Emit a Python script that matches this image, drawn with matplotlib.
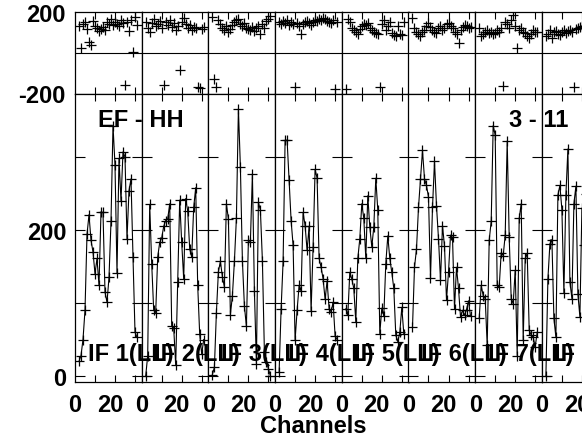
import matplotlib.pyplot as plt
from matplotlib.ticker import FixedLocator

plt.rcParams['font.family'] = ['Liberation Sans', 'DejaVu Sans']
plt.rcParams['font.weight'] = 'bold'

W, H = 582, 439   # figure size in pixels
FS = 17

if_labels = ['IF 1(LL)', 'IF 2(LL)', 'IF 3(LL)', 'IF 4(LL)',
             'IF 5(LL)', 'IF 6(LL)', 'IF 7(LL)', 'IF 8(LL)']
channels = list(range(2, 32))

# amplitude per IF
amp_if1 = [20, 28, 50, 90, 194, 221, 186, 170, 140, 161, 124, 225, 224, 115, 101,
           135, 212, 343, 289, 141, 298, 240, 307, 300, 188, 254, 270, 163, 60, 53]
amp_if2 = [0, 28, 235, 154, 90, 87, 163, 183, 189, 205, 213, 215, 236, 69, 66,
           15, 129, 241, 183, 133, 243, 226, 174, 163, 231, 258, 124, 57, 30, 50]
amp_if3 = [2, 12, 87, 143, 157, 136, 122, 236, 215, 84, 110, 157, 216, 366, 286,
           158, 96, 68, 186, 184, 277, 117, 17, 238, 227, 158, 33, 19, 10, 0]
amp_if4 = [5, 92, 157, 323, 323, 268, 213, 179, 49, 90, 124, 116, 224, 206, 172,
           205, 89, 177, 283, 271, 161, 149, 133, 105, 130, 92, 88, 101, 55, 50]
amp_if5 = [92, 83, 142, 133, 120, 74, 161, 188, 236, 216, 161, 247, 204, 177, 204,
           271, 227, 58, 93, 82, 154, 192, 161, 142, 120, 56, 47, 60, 94, 58]
amp_if6 = [67, 149, 174, 231, 270, 309, 270, 261, 245, 134, 231, 294, 233, 188, 131,
           206, 178, 104, 142, 193, 190, 92, 149, 120, 81, 90, 83, 91, 103, 82]
amp_if7 = [79, 124, 110, 106, 42, 186, 212, 343, 330, 124, 122, 169, 165, 193, 322,
           190, 106, 99, 145, 28, 216, 236, 49, 161, 168, 63, 56, 53, 40, 60]
amp_if8 = [0, 133, 181, 187, 79, 53, 248, 261, 228, 114, 248, 311, 129, 106, 236,
           260, 112, 81, 230, 180, 250, 120]

# phase per IF (degrees)
ph_if1 = [130, 25, 140, 150, 115, 55, 40, 155, 130, 120, 105, 115, 125, 110, 150,
          140, 165, 135, 150, 140, 130, 160, 145, -160, 150, 105, 160, 5, 175, 135]
ph_if2 = [150, 120, 100, 145, 165, 130, 140, 155, 120, -160, 150, 135, 160, 125, 145,
          110, 130, -85, 150, 170, 140, 120, 135, 110, 125, 120, -166, -175, 115, 125]
ph_if3 = [175, -131, -170, 160, 140, 120, 110, 130, 100, 115, 135, 150, 160, 165, 140,
          130, 145, 120, 115, 110, 125, 105, 120, 130, 90, 140, 120, 155, 165, 180]
ph_if4 = [150, 140, 155, 145, 160, 135, 150, 140, -169, 145, 130, 90, 140, 150, 155,
          145, 135, 150, 160, 155, 165, 160, 170, 165, 155, 150, 145, 160, -177, 150]
ph_if5 = [-177, 165, 150, 120, 110, 100, 90, 115, 130, 140, 135, 145, 120, 110, 100,
          95, 90, -169, 140, 160, 110, 130, 150, 95, 85, 80, 130, 90, 85, 150]
ph_if6 = [170, 120, 100, 90, 80, 100, 110, 130, 145, 125, 110, 100, 95, 120, 130,
          110, 120, 140, 145, 130, 120, 100, 90, 48, 110, 125, 135, 130, 120, 125]
ph_if7 = [120, 80, 90, 100, 110, 95, 100, 90, 95, 110, 100, 120, -164, 150, 140,
          120, 160, 184, 130, 25, 110, 120, 100, 95, 80, 70, 90, 110, 100, 100]
ph_if8 = [80, 90, 110, 70, 100, 105, 90, 85, 100, 110, 95, 105, 110, 100, -166,
          115, 120, 125, 130, 120, 135]

amps = [amp_if1, amp_if2, amp_if3, amp_if4, amp_if5, amp_if6, amp_if7, amp_if8]
phases = [ph_if1, ph_if2, ph_if3, ph_if4, ph_if5, ph_if6, ph_if7, ph_if8]

fig = plt.figure(figsize=(W / 100, H / 100), dpi=100)

x0 = 75.0      # left edge of first panel (px)
pw = 66.7      # panel width (px)
ph_top, split, amp_bot = 13.0, 94.5, 383.0

mk = dict(marker='+', markersize=7.5, markeredgewidth=0.9, color='black')

for i in range(8):
    left = (x0 + i * pw) / W
    axp = fig.add_axes([left, 1 - split / H, pw / W, (split - ph_top) / H])
    axa = fig.add_axes([left, 1 - amp_bot / H, pw / W, (amp_bot - split) / H])

    # phase
    n = len(phases[i])
    axp.plot(channels[:n], phases[i], linestyle='none', **mk)
    axp.axhline(0, color='black', lw=0.8)
    axp.set_xlim(0, 33.35)
    axp.set_ylim(-200, 200)
    axp.set_yticks([-200, 200])
    axp.set_yticklabels(['-200', '200'] if i == 0 else ['', ''])
    axp.set_xticks([])
    axp.xaxis.set_minor_locator(FixedLocator([10, 20, 30]))
    axp.tick_params(axis='x', which='minor', direction='in', top=True, bottom=True,
                    length=5, width=0.8)
    axp.tick_params(axis='y', length=0, labelsize=FS, pad=7)

    # amplitude
    n = len(amps[i])
    axa.plot(channels[:n], amps[i], lw=0.8, **mk)
    axa.set_xlim(0, 33.35)
    axa.set_ylim(-8.2, 387)
    axa.set_yticks([0, 100, 200, 300])
    axa.set_yticklabels(['0', '', '200', ''] if i == 0 else ['', '', '', ''])
    axa.tick_params(axis='y', direction='in', left=True, right=True, length=7,
                    width=0.8, labelsize=FS, pad=6)
    axa.set_xticks([0, 17.5])
    axa.set_xticklabels(['0', '20'])
    axa.tick_params(axis='x', which='major', length=0, labelsize=FS, pad=8)
    axa.xaxis.set_minor_locator(FixedLocator([10, 20, 30]))
    axa.tick_params(axis='x', which='minor', direction='in', top=True, bottom=True,
                    length=5, width=0.8)

    for ax in (axp, axa):
        for s in ax.spines.values():
            s.set_linewidth(0.9)

    fig.text((x0 + i * pw + 12.5) / W, 1 - 361 / H, if_labels[i],
             fontsize=FS, ha='left', va='baseline')

fig.text(98 / W, 1 - 127 / H, 'EF - HH', fontsize=FS, ha='left', va='baseline')
fig.text(509 / W, 1 - 127 / H, '3 - 11', fontsize=FS, ha='left', va='baseline')
fig.text(313 / W, 1 - 433 / H, 'Channels', fontsize=FS, ha='center', va='baseline')

fig.savefig('out.png', dpi=100)
